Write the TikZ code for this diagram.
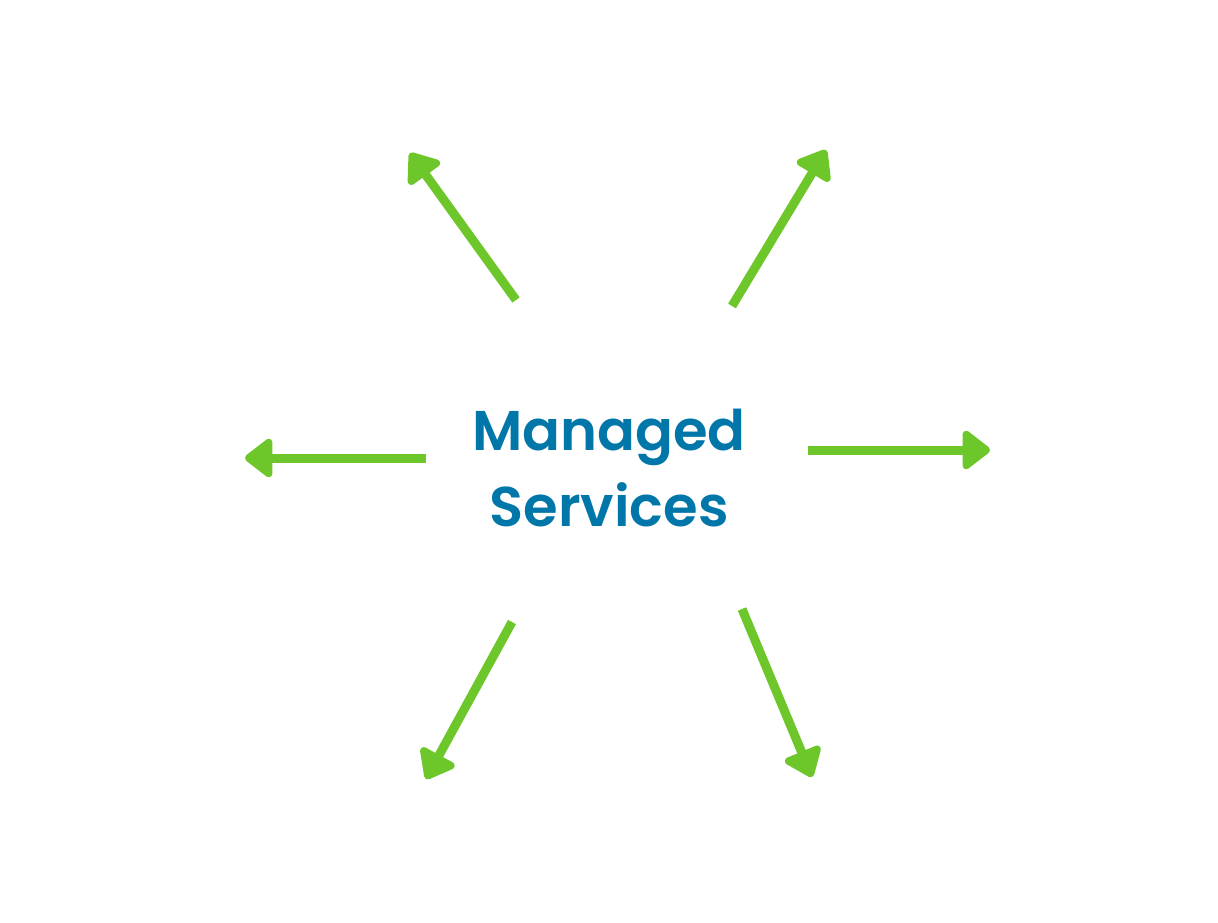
\documentclass[tikz,border=0pt]{standalone}
\usepackage{fontspec}
\setmainfont{Poppins}[BoldFont={Poppins SemiBold}]
\usetikzlibrary{arrows.meta}
\definecolor{arrgreen}{HTML}{6DC72A}
\definecolor{txtblue}{HTML}{0077A8}
\begin{document}
\begin{tikzpicture}[x=1pt,y=-1pt,
  spoke/.style={draw=arrgreen, line width=9pt, line cap=butt,
    -{Triangle[length=30pt,width=44pt,round]}}]
\useasboundingbox (0,0) rectangle (1218,922);
\node[font=\bfseries\fontsize{56}{76}\selectfont, text=txtblue, align=center] (c) at (609,468) {Managed\\Services};
\coordinate (t1) at (516,300); \coordinate (h1) at (410,153);
\coordinate (t2) at (732,306); \coordinate (h2) at (826,150);
\coordinate (t3) at (426,458); \coordinate (h3) at (245,458);
\coordinate (t4) at (808,450); \coordinate (h4) at (990,450);
\coordinate (t5) at (512,622); \coordinate (h5) at (426,779);
\coordinate (t6) at (742,609); \coordinate (h6) at (812,777);
\foreach \i in {1,...,6} \draw[spoke] (t\i) -- (h\i);
\end{tikzpicture}
\end{document}
